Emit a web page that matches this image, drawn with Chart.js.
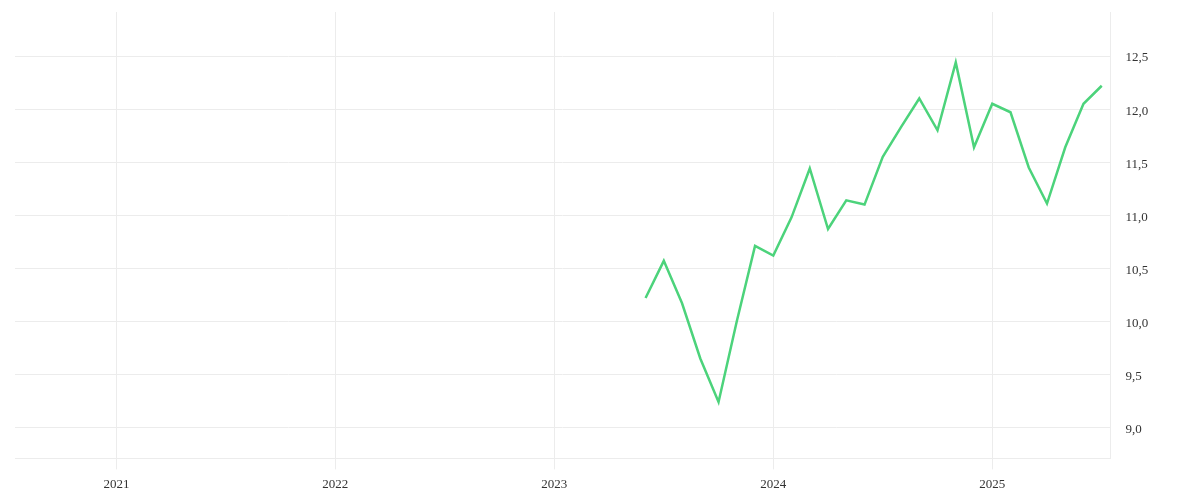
<!DOCTYPE html>
<html>
<head>
<meta charset="utf-8">
<script src="https://cdn.jsdelivr.net/npm/chart.js@4/dist/chart.umd.min.js"></script>
<style>
  html, body { margin: 0; padding: 0; background: #fff; }
  #wrap { width: 1200px; height: 500px; position: relative; }
</style>
</head>
<body>
<div id="wrap"><canvas id="c"></canvas></div>
<script>
const months = ['2023-06','2023-07','2023-08','2023-09','2023-10','2023-11','2023-12',
  '2024-01','2024-02','2024-03','2024-04','2024-05','2024-06','2024-07','2024-08','2024-09','2024-10','2024-11','2024-12',
  '2025-01','2025-02','2025-03','2025-04','2025-05','2025-06','2025-07'];
const values = [10.22, 10.57, 10.17, 9.65, 9.24, 10.00, 10.71,
  10.62, 10.98, 11.44, 10.87, 11.14, 11.10, 11.55, 11.83, 12.10, 11.80, 12.44, 11.64,
  12.05, 11.97, 11.45, 11.11, 11.64, 12.05, 12.22];
const yearTicks = [2021, 2022, 2023, 2024, 2025];
const yTicks = [9.0, 9.5, 10.0, 10.5, 11.0, 11.5, 12.0, 12.5];

const points = months.map((m, i) => {
  const [y, mo] = m.split('-').map(Number);
  return { x: y + (mo - 1) / 12, y: values[i] };
});

const gridColor = '#ececec';
const fontSpec = { family: '"Liberation Serif", serif', size: 13 };

new Chart(document.getElementById('c'), {
  type: 'line',
  data: {
    datasets: [{
      data: points,
      borderColor: '#4cd37b',
      borderWidth: 2.5,
      pointRadius: 0,
      tension: 0,
      fill: false
    }]
  },
  options: {
    responsive: true,
    maintainAspectRatio: false,
    animation: false,
    layout: { padding: { left: 15, top: 12, right: 0, bottom: 1 } },
    plugins: { legend: { display: false }, tooltip: { enabled: false } },
    scales: {
      x: {
        type: 'linear',
        min: 2020.537,
        max: 2025.54,
        afterBuildTicks: (axis) => { axis.ticks = yearTicks.map(v => ({ value: v })); },
        afterFit: (axis) => { axis.paddingLeft = 0; axis.paddingRight = 0; },
        ticks: {
          color: '#333',
          font: fontSpec,
          padding: 7,
          maxRotation: 0,
          callback: (v) => String(v)
        },
        grid: { color: gridColor, tickLength: 11, drawTicks: true },
        border: { display: true, color: gridColor }
      },
      y: {
        position: 'right',
        min: 8.708,
        max: 12.915,
        afterBuildTicks: (axis) => { axis.ticks = yTicks.map(v => ({ value: v })); },
        afterFit: (axis) => { axis.width = 89.5; axis.paddingTop = 0; axis.paddingBottom = 0; },
        ticks: {
          color: '#333',
          font: fontSpec,
          padding: 15,
          labelOffset: 2,
          callback: (v) => v.toFixed(1).replace('.', ',')
        },
        grid: { color: gridColor, drawTicks: false },
        border: { display: true, color: gridColor }
      }
    }
  }
});
</script>
</body>
</html>
